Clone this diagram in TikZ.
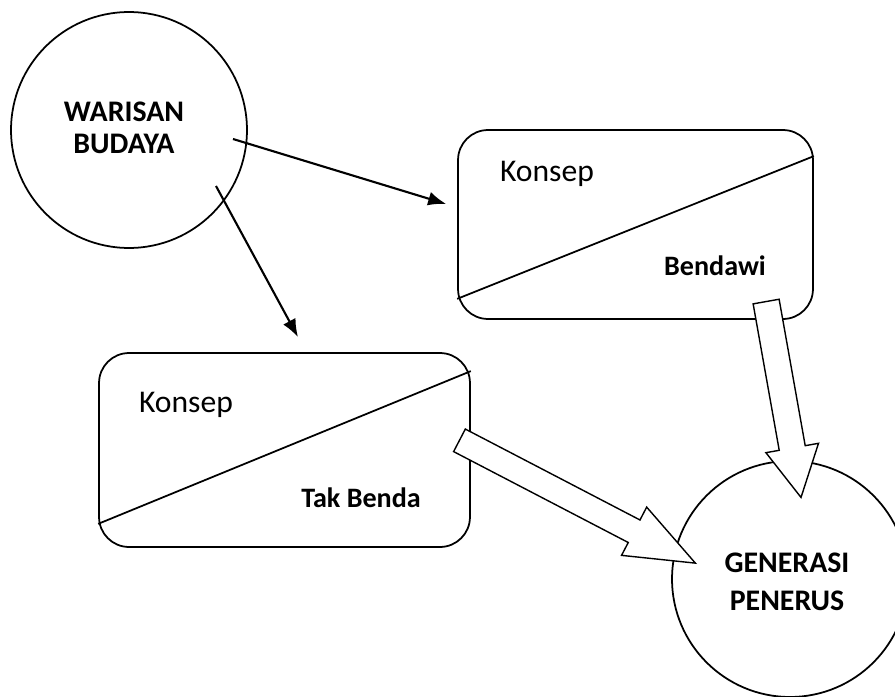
\documentclass[tikz,border=0pt]{standalone}
\usepackage{fontspec}
\setmainfont{Carlito}
\usetikzlibrary{arrows.meta,shapes.arrows,calc}

\begin{document}
\begin{tikzpicture}[x=0.02cm,y=-0.02cm,line width=1pt,
  bulat/.style={circle,draw,minimum size=4.72cm},
  judul/.style={align=center,font=\bfseries\fontsize{17}{#1}\selectfont},
  kotak/.style={draw,rounded corners=0.6cm,minimum width=#1},
  panah/.style={-{Latex[length=3.6mm,width=2.8mm]},line width=1.2pt},
  panahblok/.style={single arrow,draw,fill=white,line width=0.8pt,anchor=tail,inner xsep=0pt}]
\useasboundingbox (0,0) rectangle (895,696);
% lingkaran
\node[bulat] (warisan) at (129,130) {};
\node[judul=18.2pt] (warisanteks) at (124,128) {WARISAN\\BUDAYA};
\node[bulat] (generasi) at (790,579) {};
\node[judul=21.6pt] (generasiteks) at (787,582) {GENERASI\\PENERUS};
% kotak konsep
\node[kotak=7.1cm,minimum height=3.78cm] (bendawi) at (635.5,224.5) {};
\node[kotak=7.42cm,minimum height=3.88cm] (takbenda) at (284.5,450) {};
\draw ([yshift=0.42cm]bendawi.south west) -- ([yshift=-0.54cm]bendawi.north east);
\draw ([yshift=0.48cm]takbenda.south west) -- ([yshift=-0.38cm]takbenda.north east);
\node[anchor=base,font=\fontsize{18}{20}\selectfont] (konsep1) at (547,181) {Konsep};
\node[anchor=base,font=\bfseries\fontsize{16}{18}\selectfont] (label1) at (715,275) {Bendawi};
\node[anchor=base,font=\fontsize{18}{20}\selectfont] (konsep2) at (186,412) {Konsep};
\node[anchor=base,font=\bfseries\fontsize{16}{18}\selectfont] (label2) at (361,507) {Tak Benda};
% panah
\coordinate (w1) at (233,139);
\coordinate (w2) at (216,186);
\draw[panah] (w1) -- ($(bendawi.west)+(-11,-20.5)$);
\draw[panah] (w2) -- ($(takbenda.north)+(13.5,-15)$);
% panah blok
\node[panahblok,minimum height=3.98cm,inner ysep=0.25cm,single arrow head extend=0.27cm,
  single arrow tip angle=56,rotate=-79.9] (ke1) at ($(bendawi.south)+(130.5,-19)$) {};
\node[panahblok,minimum height=5.32cm,inner ysep=0.24cm,single arrow head extend=0.29cm,
  single arrow tip angle=43,rotate=-27.5] (ke2) at ($(takbenda.east)+(-12,-10)$) {};
\end{tikzpicture}
\end{document}
